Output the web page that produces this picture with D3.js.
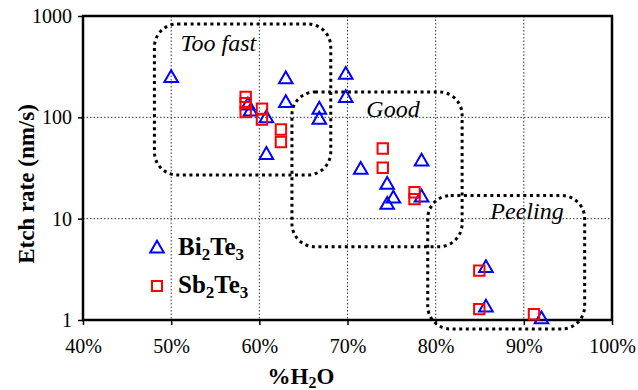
<!DOCTYPE html>
<html><head><meta charset="utf-8">
<script src="https://cdn.jsdelivr.net/npm/d3@7"></script>
</head><body style="margin:0">
<svg id="c" width="638" height="390"></svg>
<script>
const xTicks = [0.4, 0.5, 0.6, 0.7, 0.8, 0.9, 1.0];
const yTicks = [1, 10, 100, 1000];
const biWater = [0.50, 0.63, 0.63, 0.698, 0.698, 0.668, 0.668, 0.587, 0.590, 0.608, 0.608, 0.715, 0.784, 0.745, 0.752, 0.745, 0.784, 0.857, 0.857, 0.920];
const biRate  = [252, 245, 143, 272, 160, 123, 98, 135, 118, 101, 44, 31.4, 37.9, 22.3, 16.3, 14.2, 16.7, 3.36, 1.37, 1.05];
const sbWater = [0.5845, 0.5845, 0.5845, 0.603, 0.603, 0.6245, 0.6245, 0.740, 0.740, 0.776, 0.776, 0.8495, 0.8495, 0.9115];
const sbRate  = [159, 138, 113, 122, 95, 75.9, 57.1, 49.3, 31.8, 18.2, 15.6, 3.07, 1.28, 1.14];
const regionLabels = ["Too fast", "Good", "Peeling"];
const regionX0 = [0.481, 0.637, 0.791];
const regionX1 = [0.681, 0.830, 0.969];
const regionTop = [834, 178, 16.9];
const regionBottom = [27, 5.29, 0.815];
const labelX = [0.5535, 0.7516, 0.9036];
const labelY = [452, 101, 9.86];

const svg = d3.select("#c");
const L = 83, R = 612, T = 16, B = 320;
const x = d3.scaleLinear().domain([0.4, 1.0]).range([L, R]);
const y = d3.scaleLog().domain([1, 1000]).range([B, T]);
const FONT = '"Liberation Serif"';

// grid
const g = svg.append("g");
g.selectAll("line.vx").data(xTicks.slice(1, -1)).enter().append("line")
  .attr("x1", d => x(d)).attr("x2", d => x(d)).attr("y1", T).attr("y2", B)
  .attr("stroke", "#000").attr("stroke-width", 0.8).attr("stroke-dasharray", "1.5,2");
g.selectAll("line.hy").data(yTicks.slice(1, -1)).enter().append("line")
  .attr("y1", d => y(d)).attr("y2", d => y(d)).attr("x1", L).attr("x2", R)
  .attr("stroke", "#000").attr("stroke-width", 0.8).attr("stroke-dasharray", "1.5,2");

// axes
const xAxis = d3.axisBottom(x).tickValues(xTicks).tickFormat(d3.format(".0%")).tickSize(5).tickPadding(14);
const yAxis = d3.axisLeft(y).tickValues(yTicks).tickFormat(d3.format("d")).tickSize(5).tickPadding(6);
const gx = svg.append("g").attr("transform", `translate(0,${B})`).call(xAxis);
const gy = svg.append("g").attr("transform", `translate(${L},0)`).call(yAxis);
[gx, gy].forEach(a => {
  a.select(".domain").remove();
  a.attr("font-family", null).attr("font-size", null);
  a.selectAll(".tick line").attr("stroke", "#000").attr("stroke-width", 1.5);
  a.selectAll(".tick text").style("font-family", FONT).attr("font-size", 20).attr("fill", "#000");
});
gy.selectAll(".tick text").attr("dy", "0.33em");

// frame
svg.append("rect").attr("x", L).attr("y", T).attr("width", R - L).attr("height", B - T)
  .attr("fill", "none").attr("stroke", "#000").attr("stroke-width", 2.5);

// regions
regionLabels.forEach((lab, i) => {
  svg.append("rect")
    .attr("x", x(regionX0[i])).attr("y", y(regionTop[i]))
    .attr("width", x(regionX1[i]) - x(regionX0[i])).attr("height", y(regionBottom[i]) - y(regionTop[i]))
    .attr("rx", 23).attr("ry", 23)
    .attr("fill", "none").attr("stroke", "#000").attr("stroke-width", 3)
    .attr("stroke-dasharray", "3,3.6");
  svg.append("text").attr("x", x(labelX[i])).attr("y", y(labelY[i]))
    .style("font-family", FONT).attr("font-style", "italic").attr("font-size", 24)
    .attr("text-anchor", "middle").text(lab);
});

// markers
const tri = d3.symbol().type(d3.symbolTriangle).size(80);
const sq = d3.symbol().type(d3.symbolSquare).size(108);
svg.selectAll("path.bi").data(biWater.map((w, i) => [w, biRate[i]])).enter().append("path")
  .attr("class", "bi")
  .attr("d", tri).attr("transform", d => `translate(${x(d[0])},${y(d[1]) + 1.5})`)
  .attr("fill", "none").attr("stroke", "#0000ff").attr("stroke-width", 2);
svg.selectAll("path.sb").data(sbWater.map((w, i) => [w, sbRate[i]])).enter().append("path")
  .attr("class", "sb")
  .attr("d", sq).attr("transform", d => `translate(${x(d[0])},${y(d[1])})`)
  .attr("fill", "none").attr("stroke", "#ff0000").attr("stroke-width", 2);

// legend
svg.append("path").attr("d", tri).attr("transform", "translate(157,248.5)")
  .attr("fill", "none").attr("stroke", "#0000ff").attr("stroke-width", 2);
svg.append("path").attr("d", d3.symbol().type(d3.symbolSquare).size(100)).attr("transform", "translate(157,286)")
  .attr("fill", "none").attr("stroke", "#ff0000").attr("stroke-width", 2);
function chem(xx, yy, parts) {
  const tx = svg.append("text").attr("x", xx).attr("y", yy)
    .style("font-family", FONT).attr("font-weight", "bold").attr("font-size", 25);
  parts.forEach(p => {
    if (p.sub) tx.append("tspan").attr("font-size", 17).attr("dy", 5).text(p.t);
    else tx.append("tspan").attr("dy", p.back ? -5 : 0).text(p.t);
  });
}
chem(178, 255, [{t: "Bi"}, {t: "2", sub: true}, {t: "Te", back: true}, {t: "3", sub: true}]);
chem(178, 293, [{t: "Sb"}, {t: "2", sub: true}, {t: "Te", back: true}, {t: "3", sub: true}]);

// axis titles
const xt = svg.append("text").attr("x", 301).attr("y", 384).attr("text-anchor", "middle")
  .style("font-family", FONT).attr("font-weight", "bold").attr("font-size", 23);
xt.append("tspan").text("%H");
xt.append("tspan").attr("font-size", 16).attr("dy", 4).text("2");
xt.append("tspan").attr("dy", -4).text("O");
svg.append("text").attr("transform", "translate(34,184) rotate(-90)").attr("text-anchor", "middle")
  .style("font-family", FONT).attr("font-weight", "bold").attr("font-size", 23)
  .text("Etch rate (nm/s)");
</script>
</body></html>
